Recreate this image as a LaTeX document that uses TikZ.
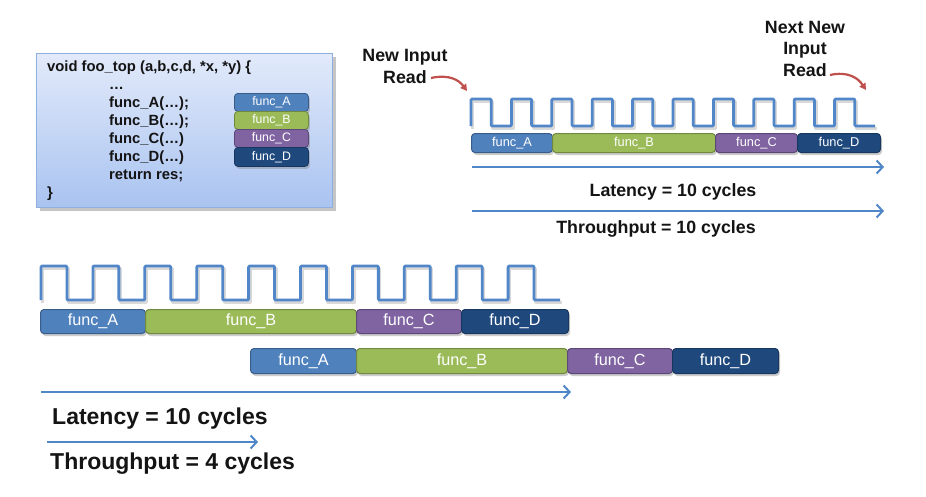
\documentclass[tikz,border=0pt]{standalone}
\usepackage{fontspec}
\setmainfont{Liberation Sans}
\usetikzlibrary{arrows.meta,shadows}
\definecolor{fA}{HTML}{4F81BD}
\definecolor{fAd}{HTML}{385D8A}
\definecolor{fB}{HTML}{9BBB59}
\definecolor{fBd}{HTML}{71893F}
\definecolor{fC}{HTML}{8064A2}
\definecolor{fCd}{HTML}{5C4776}
\definecolor{fD}{HTML}{1F497D}
\definecolor{fDd}{HTML}{17375E}
\definecolor{clk}{HTML}{5187C8}
\definecolor{redar}{HTML}{C0504D}
\definecolor{cbTop}{HTML}{E2EAFA}
\definecolor{cbBot}{HTML}{A9C3F0}
\definecolor{cbBorder}{HTML}{8FB0DE}
\definecolor{txt}{HTML}{141414}
\tikzset{
  seg/.style={draw, line width=1pt, rounded corners=3.5pt, inner sep=0pt, anchor=north west, text=white,
    drop shadow={opacity=0.4, shadow xshift=1.5pt, shadow yshift=-2.5pt}},
  segtop/.style={seg, minimum height=19pt, font=\fontsize{12.8}{14}\selectfont},
  segbot/.style={seg, minimum height=24pt, font=\fontsize{16.2}{18}\selectfont},
  segmini/.style={seg, minimum height=18pt, minimum width=74pt, line width=0.8pt, font=\fontsize{12.3}{14}\selectfont},
  fa/.style={fill=fA, draw=fAd},
  fb/.style={fill=fB, draw=fBd},
  fc/.style={fill=fC, draw=fCd},
  fd/.style={fill=fD, draw=fDd},
  clockline/.style={draw=clk, line width=2.8pt, line join=round, rounded corners=1pt},
  clockshadow/.style={draw=black, opacity=0.15, line width=3.2pt, line join=round},
  timearrow/.style={draw=clk, line width=2pt, -{Straight Barb[length=6pt,width=13pt]}},
  readarrow/.style={draw=redar, line width=2.2pt, -{Triangle[length=6.5pt,width=7pt]}},
  toplabel/.style={font=\bfseries\fontsize{17.8}{21}\selectfont, text=txt, inner sep=0pt, anchor=base},
  biglabel/.style={font=\bfseries\fontsize{23}{27}\selectfont, text=txt, inner sep=0pt, anchor=base west},
  codeline/.style={font=\bfseries\fontsize{14.8}{17}\selectfont, text=txt, inner sep=0pt, anchor=base west},
  codebox/.style={top color=cbTop, bottom color=cbBot, draw=cbBorder, line width=1pt, anchor=north west,
    inner sep=0pt, drop shadow={opacity=0.45, shadow xshift=3pt, shadow yshift=-3pt}},
}
\begin{document}
\begin{tikzpicture}[x=1pt,y=-1pt]
\useasboundingbox (0,0) rectangle (926,496);
\fill[white] (0,0) rectangle (926,496);

% ---------- code box ----------
\node[codebox, minimum width=296pt, minimum height=154pt] (code) at (36,53) {};
\node[codeline] (c1) at (47,71) {void foo\_top (a,b,c,d, *x, *y) \{};
\node[codeline] (c2) at (109,89) {…};
\node[codeline] (c3) at (109,107) {func\_A(…);};
\node[codeline] (c4) at (109,125) {func\_B(…);};
\node[codeline] (c5) at (109,143) {func\_C(…)};
\node[codeline] (c6) at (109,161) {func\_D(…)};
\node[codeline] (c7) at (109,179) {return res;};
\node[codeline] (c8) at (47,197) {\}};
\node[segmini, fa] (mA) at (234,93) {func\_A};
\node[segmini, fb] (mB) at (234,111) {func\_B};
\node[segmini, fc] (mC) at (234,129) {func\_C};
\node[segmini, fd, minimum height=19pt] (mD) at (234,147) {func\_D};

% ---------- top timeline ----------
\node[toplabel] (ni1) at (405,61) {New Input};
\node[toplabel] (ni2) at (405,83) {Read};
\node[toplabel] (nn1) at (805,33) {Next New};
\node[toplabel] (nn2) at (805,54) {Input};
\node[toplabel] (nn3) at (805,76) {Read};
\coordinate (r1s) at (431,78);
\coordinate (r1e) at (467,91);
\coordinate (r2s) at (830,75);
\coordinate (r2e) at (866,90);
\draw[readarrow] (r1s) .. controls (449,74) and (459,80) .. (r1e);
\draw[readarrow] (r2s) .. controls (848,71) and (858,78) .. (r2e);

\coordinate (tclk) at (471,126);
\coordinate (tclks) at (472.5,128.5);
\draw[clockshadow] (tclks) foreach \i in {1,...,10} { -- ++(0,-27) -- ++(20.2,0) -- ++(0,27) -- ++(20.2,0) };
\draw[clockline] (tclk) foreach \i in {1,...,10} { -- ++(0,-27) -- ++(20.2,0) -- ++(0,27) -- ++(20.2,0) };

\node[segtop, fa, minimum width=81pt] (tA) at (471,133) {func\_A};
\node[segtop, fb, minimum width=163pt] (tB) at (552,133) {func\_B};
\node[segtop, fc, minimum width=82pt] (tC) at (715,133) {func\_C};
\node[segtop, fd, minimum width=83pt] (tD) at (797,133) {func\_D};

\coordinate (la1) at (472,167);
\coordinate (la2) at (884,167);
\coordinate (ta1) at (472,211);
\coordinate (ta2) at (884,211);
\draw[timearrow] (la1) -- (la2);
\draw[timearrow] (ta1) -- (ta2);
\node[toplabel] (lat1) at (673,196) {Latency = 10 cycles};
\node[toplabel] (thr1) at (656,233) {Throughput = 10 cycles};

% ---------- bottom timeline ----------
\coordinate (bclk) at (41,300);
\coordinate (bclks) at (42.5,302.5);
\draw[clockshadow] (bclks) foreach \i in {1,...,10} { -- ++(0,-34) -- ++(25.95,0) -- ++(0,34) -- ++(25.95,0) };
\draw[clockline] (bclk) foreach \i in {1,...,10} { -- ++(0,-34) -- ++(25.95,0) -- ++(0,34) -- ++(25.95,0) };

\node[segbot, fa, minimum width=105pt] (bA1) at (40,309) {func\_A};
\node[segbot, fb, minimum width=211pt] (bB1) at (145,309) {func\_B};
\node[segbot, fc, minimum width=105pt] (bC1) at (356,309) {func\_C};
\node[segbot, fd, minimum width=107pt] (bD1) at (461,309) {func\_D};

\node[segbot, fa, minimum width=106pt, minimum height=25pt] (bA2) at (250,348) {func\_A};
\node[segbot, fb, minimum width=211pt, minimum height=25pt] (bB2) at (356,348) {func\_B};
\node[segbot, fc, minimum width=105pt, minimum height=25pt] (bC2) at (567,348) {func\_C};
\node[segbot, fd, minimum width=106pt, minimum height=25pt] (bD2) at (672,348) {func\_D};

\coordinate (bl1) at (41,392);
\coordinate (bl2) at (571,392);
\coordinate (bt1) at (47,442);
\coordinate (bt2) at (258,442);
\draw[timearrow] (bl1) -- (bl2);
\draw[timearrow] (bt1) -- (bt2);
\node[biglabel] (lat2) at (52,424) {Latency = 10 cycles};
\node[biglabel] (thr2) at (50,469) {Throughput = 4 cycles};
\end{tikzpicture}
\end{document}
